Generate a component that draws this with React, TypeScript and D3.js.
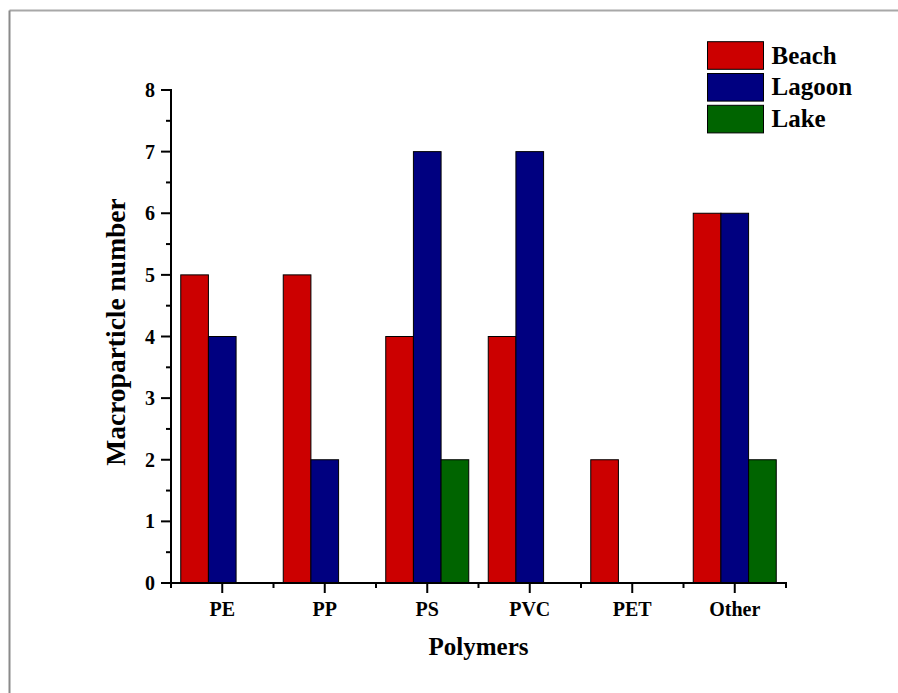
import React from "react";
import * as d3 from "d3";

const categories = ["PE", "PP", "PS", "PVC", "PET", "Other"];
const seriesNames = ["Beach", "Lagoon", "Lake"];
const beach = [5, 5, 4, 4, 2, 6];
const lagoon = [4, 2, 7, 7, 0, 6];
const lake = [0, 0, 2, 0, 0, 2];
const seriesColors = ["#cc0000", "#000080", "#006400"];
const yTicks = [0, 1, 2, 3, 4, 5, 6, 7, 8];
const yMinorTicks = [0.5, 1.5, 2.5, 3.5, 4.5, 5.5, 6.5, 7.5];

const W = 898;
const H = 693;
const FONT = "'Liberation Serif', 'Times New Roman', Times, serif";

export default function App() {
  const series = [beach, lagoon, lake];
  const x0 = 171;
  const x1 = 786;
  const yBottom = 583;
  const yTop = 90;
  const x = d3.scaleBand<string>().domain(categories).range([x0, x1]).paddingInner(0).paddingOuter(0);
  const groupW = 83;
  const inner = d3
    .scaleBand<string>()
    .domain(seriesNames)
    .range([0, groupW])
    .padding(0);
  const y = d3.scaleLinear().domain([0, 8]).range([yBottom, yTop]);
  const bw = x.bandwidth();
  const boundaries = categories.map((c) => x(c)!).concat([x1]);

  return (
    <svg
      width={W}
      height={H}
      style={{ position: "absolute", left: 0, top: 0, background: "#fff" }}
      fontFamily={FONT}
    >
      <rect x={0} y={0} width={W} height={H} fill="#fff" />
      {/* frame */}
      <line x1={9.5} y1={10.5} x2={W} y2={10.5} stroke="#a8a8a8" strokeWidth={2} />
      <line x1={9.5} y1={10.5} x2={9.5} y2={H} stroke="#8a8a8a" strokeWidth={2} />

      {/* bars */}
      {categories.map((c, i) => {
        const gx = x(c)! + bw / 2 - groupW / 2;
        return series.map((s, j) =>
          s[i] > 0 ? (
            <rect
              key={c + j}
              x={gx + inner(seriesNames[j])!}
              y={y(s[i])}
              width={inner.bandwidth()}
              height={yBottom - y(s[i])}
              fill={seriesColors[j]}
              stroke="#000"
              strokeWidth={1}
            />
          ) : null
        );
      })}

      {/* y axis */}
      <line x1={x0} y1={yTop - 1} x2={x0} y2={yBottom + 1} stroke="#000" strokeWidth={2} />
      {yTicks.map((t) => (
        <g key={"yt" + t}>
          <line x1={x0 - 10} x2={x0} y1={y(t)} y2={y(t)} stroke="#000" strokeWidth={2} />
          <text
            x={x0 - 16}
            y={y(t)}
            dy="0.35em"
            textAnchor="end"
            fontSize={20}
            fontWeight="bold"
          >
            {t}
          </text>
        </g>
      ))}
      {yMinorTicks.map((t) => (
        <line key={"ym" + t} x1={x0 - 5} x2={x0} y1={y(t)} y2={y(t)} stroke="#000" strokeWidth={2} />
      ))}

      {/* x axis */}
      <line x1={x0 - 1} y1={yBottom} x2={x1 + 1} y2={yBottom} stroke="#000" strokeWidth={2} />
      {boundaries.map((b, i) => (
        <line key={"xb" + i} x1={b} x2={b} y1={yBottom} y2={yBottom + 5} stroke="#000" strokeWidth={2} />
      ))}
      {categories.map((c) => {
        const cx = x(c)! + bw / 2;
        return (
          <g key={"xt" + c}>
            <line x1={cx} x2={cx} y1={yBottom} y2={yBottom + 10} stroke="#000" strokeWidth={2} />
            <text x={cx} y={616} textAnchor="middle" fontSize={20} fontWeight="bold">
              {c}
            </text>
          </g>
        );
      })}

      {/* axis titles */}
      <text x={(x0 + x1) / 2} y={655} textAnchor="middle" fontSize={25} fontWeight="bold">
        Polymers
      </text>
      <text
        transform={`translate(125, 332) rotate(-90)`}
        textAnchor="middle"
        fontSize={27.5}
        fontWeight="bold"
      >
        Macroparticle number
      </text>

      {/* legend */}
      {seriesNames.map((n, j) => (
        <g key={"lg" + n} transform={`translate(707.5, ${41.7 + j * 31.8})`}>
          <rect width={56} height={27.6} fill={seriesColors[j]} stroke="#000" strokeWidth={1} />
          <text x={64} y={21.8} fontSize={25} fontWeight="bold">
            {n}
          </text>
        </g>
      ))}
    </svg>
  );
}
